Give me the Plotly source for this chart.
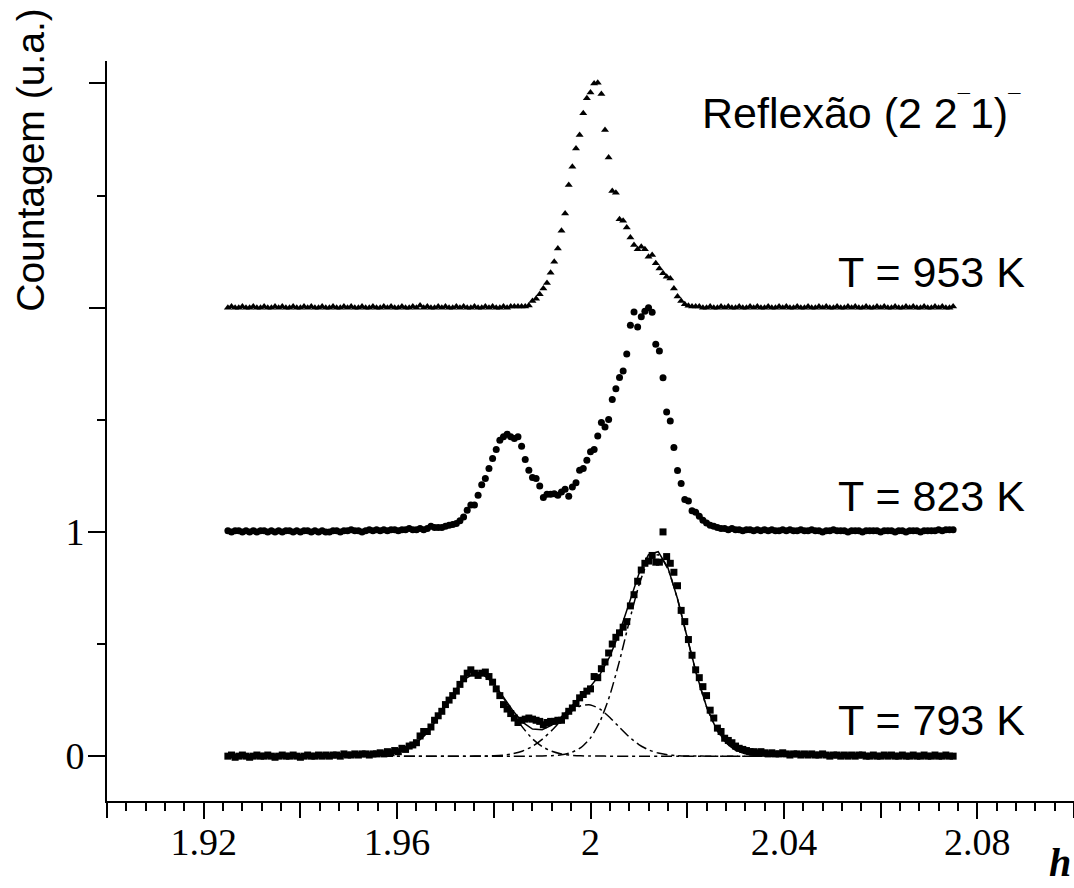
import numpy as np
import plotly.graph_objects as go

# ---------------- data ----------------
H_START, H_STOP, N_PTS = 1.925, 2.075, 201
h = np.linspace(H_START, H_STOP, N_PTS)

# T = 793 K (squares), offset 0
y793 = [
    0.00, 0.005, -0.005, 0.00, 0.005, 0.00, -0.005, 0.00, 0.005, 0.00,
    0.00, 0.005, 0.00, -0.005, 0.00, 0.005, 0.00, 0.00, 0.005, 0.00,
    -0.005, 0.00, 0.005, 0.00, 0.00, 0.005, 0.00, 0.005, 0.00, 0.005,
    0.005, 0.00, 0.01, 0.005, 0.005, 0.01, 0.005, 0.01, 0.01, 0.005,
    0.01, 0.01, 0.015, 0.01, 0.02, 0.015, 0.025, 0.02, 0.035, 0.03,
    0.045, 0.05, 0.06, 0.09, 0.11, 0.11, 0.13, 0.16, 0.18, 0.20,
    0.23, 0.25, 0.27, 0.29, 0.32, 0.345, 0.37, 0.385, 0.37, 0.36,
    0.37, 0.375, 0.355, 0.33, 0.30, 0.27, 0.23, 0.21, 0.19, 0.17,
    0.15, 0.16, 0.165, 0.17, 0.165, 0.16, 0.155, 0.14, 0.15, 0.155,
    0.155, 0.16, 0.16, 0.18, 0.20, 0.215, 0.235, 0.26, 0.275, 0.29,
    0.30, 0.355, 0.35, 0.39, 0.42, 0.46, 0.50, 0.53, 0.55, 0.575,
    0.60, 0.67, 0.72, 0.78, 0.83, 0.86, 0.87, 0.895, 0.865, 0.865,
    1.0, 0.89, 0.86, 0.82, 0.76, 0.65, 0.60, 0.52, 0.45, 0.385,
    0.35, 0.31, 0.27, 0.205, 0.17, 0.125, 0.11, 0.08, 0.07, 0.06,
    0.045, 0.035, 0.03, 0.025, 0.02, 0.02, 0.015, 0.02, 0.015, 0.01,
    0.015, 0.01, 0.01, 0.015, 0.01, 0.005, 0.01, 0.01, 0.005, 0.01,
    0.005, 0.01, 0.005, 0.005, 0.01, 0.005, 0.00, 0.005, 0.005, 0.00,
    0.005, 0.00, 0.005, 0.00, 0.005, 0.005, 0.00, 0.00, 0.005, 0.00,
    0.00, 0.005, 0.00, 0.005, 0.00, 0.00, 0.005, 0.00, 0.00, 0.005,
    0.00, 0.00, 0.005, 0.00, 0.00, 0.005, 0.00, 0.00, 0.005, 0.00, 0.00,
]

# T = 823 K (circles), values relative to its own baseline
y823_rel = [
    0.005, 0.0, 0.005, 0.005, 0.0, 0.005, 0.0, 0.005, 0.0, 0.005,
    0.005, 0.0, 0.005, 0.0, 0.005, 0.0, 0.005, 0.005, 0.0, 0.005,
    0.0, 0.005, 0.005, 0.0, 0.005, 0.0, 0.005, 0.0, 0.0, 0.005,
    0.005, 0.0, 0.005, 0.005, 0.01, 0.005, 0.005, 0.0, 0.005, 0.01,
    0.005, 0.01, 0.005, 0.01, 0.005, 0.01, 0.01, 0.005, 0.01, 0.01,
    0.015, 0.01, 0.01, 0.015, 0.01, 0.015, 0.025, 0.02, 0.02, 0.02,
    0.025, 0.03, 0.033, 0.037, 0.05, 0.067, 0.097, 0.12, 0.12, 0.164,
    0.21, 0.238, 0.283, 0.327, 0.367, 0.409, 0.424, 0.436, 0.424, 0.417,
    0.424, 0.382, 0.323, 0.275, 0.243, 0.238, 0.205, 0.153, 0.168, 0.168,
    0.17, 0.164, 0.178, 0.19, 0.159, 0.20, 0.219, 0.275, 0.283, 0.32,
    0.357, 0.367, 0.428, 0.488, 0.468, 0.501, 0.59, 0.638, 0.689, 0.718,
    0.793, 0.922, 0.981, 0.914, 0.959, 0.984, 1.0, 0.98, 0.837, 0.807,
    0.687, 0.535, 0.495, 0.376, 0.274, 0.216, 0.144, 0.138, 0.094, 0.088,
    0.07, 0.052, 0.04, 0.03, 0.025, 0.02, 0.015, 0.015, 0.01, 0.015,
    0.01, 0.01, 0.005, 0.01, 0.01, 0.005, 0.01, 0.005, 0.01, 0.005,
    0.01, 0.005, 0.005, 0.01, 0.005, 0.01, 0.005, 0.005, 0.01, 0.005,
    0.005, 0.01, 0.005, 0.005, 0.0, 0.005, 0.005, 0.01, 0.005, 0.005,
    0.005, 0.0, 0.005, 0.005, 0.005, 0.0, 0.005, 0.005, 0.005, 0.005,
    0.0, 0.005, 0.005, 0.005, 0.0, 0.005, 0.005, 0.0, 0.005, 0.005,
    0.005, 0.0, 0.005, 0.005, 0.005, 0.005, 0.01, 0.005, 0.01, 0.01, 0.01,
]

# T = 953 K (triangles), values relative to its own baseline
y953_rel = [
    0.0, 0.005, 0.0, 0.0, 0.005, 0.0, 0.0, 0.005, 0.0, 0.0,
    0.005, 0.0, 0.0, 0.005, 0.0, 0.005, 0.0, 0.0, 0.005, 0.0,
    0.0, 0.005, 0.0, 0.005, 0.0, 0.0, 0.005, 0.0, 0.0, 0.005,
    0.0, 0.0, 0.005, 0.0, 0.005, 0.0, 0.0, 0.005, 0.0, 0.0,
    0.005, 0.0, 0.0, 0.005, 0.0, 0.005, 0.0, 0.0, 0.005, 0.0,
    0.0, 0.005, 0.0, 0.01, 0.0, 0.005, 0.0, 0.0, 0.005, 0.0,
    0.005, 0.0, 0.0, 0.005, 0.0, 0.005, 0.0, 0.0, 0.005, 0.0,
    0.0, 0.005, 0.0, 0.005, 0.0, 0.0, 0.005, 0.0, 0.005, 0.005,
    0.005, 0.005, 0.005, 0.01, 0.03, 0.04, 0.06, 0.086, 0.11, 0.156,
    0.205, 0.264, 0.343, 0.42, 0.547, 0.628, 0.71, 0.77, 0.867, 0.934,
    0.959, 1.0, 1.003, 0.953, 0.792, 0.67, 0.52, 0.512, 0.394, 0.388,
    0.358, 0.313, 0.279, 0.26, 0.272, 0.26, 0.227, 0.235, 0.198, 0.175,
    0.153, 0.138, 0.13, 0.086, 0.05, 0.03, 0.015, 0.008, 0.005, 0.005,
    0.005, 0.0, 0.0, 0.005, 0.0, 0.0, 0.005, 0.0, 0.005, 0.0,
    0.0, 0.005, 0.0, 0.0, 0.005, 0.0, 0.005, 0.0, 0.0, 0.005,
    0.0, 0.0, 0.005, 0.0, 0.005, 0.0, 0.0, 0.005, 0.0, 0.0,
    0.005, 0.0, 0.0, 0.005, 0.0, 0.005, 0.0, 0.0, 0.005, 0.0,
    0.0, 0.005, 0.0, 0.005, 0.0, 0.0, 0.005, 0.0, 0.0, 0.005,
    0.0, 0.005, 0.0, 0.0, 0.005, 0.0, 0.0, 0.005, 0.0, 0.005,
    0.0, 0.0, 0.005, 0.0, 0.0, 0.005, 0.0, 0.005, 0.0, 0.0, 0.005,
]

OFFSET_823 = 1.0
OFFSET_953 = 2.0

# Fit of T = 793 K: three components (dash-dot) and their sum (solid)
fit_h = [1.925, 1.935, 1.945,
         1.950, 1.952, 1.954, 1.956, 1.958, 1.960, 1.962, 1.964, 1.966, 1.968,
         1.970, 1.972, 1.974, 1.976, 1.978, 1.980, 1.982, 1.984, 1.986, 1.988,
         1.990, 1.992, 1.994, 1.996, 1.998, 2.000, 2.002, 2.004, 2.006, 2.008,
         2.010, 2.012, 2.014, 2.016, 2.018, 2.020, 2.022, 2.024, 2.026, 2.028,
         2.030, 2.032, 2.034, 2.036, 2.038, 2.040,
         2.050, 2.060, 2.075]
fit_c1 = [0, 0, 0,
          0.0001, 0.0003, 0.0009, 0.0026, 0.0064, 0.0148, 0.0307, 0.0582, 0.1003, 0.1574,
          0.2244, 0.2912, 0.3436, 0.3689, 0.3603, 0.320, 0.2587, 0.190, 0.1272, 0.0773,
          0.0428, 0.0216, 0.0099, 0.0041, 0.0016, 0.0005, 0.0002, 0.0001, 0, 0,
          0, 0, 0, 0, 0, 0, 0, 0, 0, 0,
          0, 0, 0, 0, 0, 0,
          0, 0, 0]
fit_c2 = [0, 0, 0,
          0, 0, 0, 0, 0, 0, 0, 0, 0, 0,
          0, 0, 0, 0.0002, 0.0006, 0.0018, 0.0047, 0.011, 0.0231, 0.0437,
          0.0747, 0.115, 0.1597, 0.1996, 0.225, 0.2285, 0.2092, 0.1726, 0.1283, 0.086,
          0.0519, 0.0282, 0.0139, 0.0061, 0.0024, 0.0009, 0.0003, 0, 0, 0,
          0, 0, 0, 0, 0, 0,
          0, 0, 0]
fit_c3 = [0, 0, 0,
          0, 0, 0, 0, 0, 0, 0, 0, 0, 0,
          0, 0, 0, 0, 0, 0, 0, 0, 0, 0,
          0.0007, 0.0021, 0.0061, 0.016, 0.038, 0.0813, 0.1564, 0.2715, 0.4247, 0.5986,
          0.7605, 0.8705, 0.898, 0.835, 0.6997, 0.5283, 0.3596, 0.2205, 0.1219, 0.0607,
          0.0273, 0.011, 0.004, 0.0013, 0.0004, 0.0001,
          0, 0, 0]
sum_h = fit_h[3:49]
fit_sum = [0.0001, 0.0003, 0.0009, 0.0026, 0.0064, 0.0148, 0.0307, 0.0582, 0.1003, 0.1574,
           0.2244, 0.2912, 0.3436, 0.3691, 0.3609, 0.3218, 0.2634, 0.201, 0.1503, 0.121,
           0.1182, 0.1387, 0.1757, 0.2197, 0.2646, 0.3103, 0.3658, 0.4442, 0.553, 0.6846,
           0.8124, 0.8987, 0.9119, 0.8411, 0.7021, 0.5292, 0.3599, 0.2205, 0.1219, 0.0607,
           0.0273, 0.011, 0.004, 0.0013, 0.0004, 0.0001]

# labelled major ticks and unlabelled major ticks
x_label_vals = [1.92, 1.96, 2.00, 2.04, 2.08]
x_label_text = ["1.92", "1.96", "2", "2.04", "2.08"]
x_plain_vals = [1.90, 1.94, 1.98, 2.02, 2.06, 2.10]
y_label_vals = [0, 1]
y_label_text = ["0", "1"]
y_plain_vals = [2, 3]

labels = ["T = 793 K", "T = 823 K", "T = 953 K"]
label_y = [0.16, 1.16, 2.16]

X_RANGE = [1.90, 2.10]
Y_RANGE = [-0.2, 3.1]

# ---------------- figure ----------------
fig = go.Figure()

dd = "11px,4px,3px,4px"
for comp in (fit_c1, fit_c2, fit_c3):
    fig.add_trace(go.Scatter(x=fit_h, y=comp, mode="lines",
                             line=dict(color="black", width=1.5, dash=dd, shape="spline", smoothing=0.6),
                             hoverinfo="skip"))
fig.add_trace(go.Scatter(x=sum_h, y=fit_sum, mode="lines",
                         line=dict(color="black", width=1.5), hoverinfo="skip"))

fig.add_trace(go.Scatter(x=h, y=y793, mode="markers",
                         marker=dict(symbol="square", size=7, color="black"), name="T = 793 K"))
fig.add_trace(go.Scatter(x=h, y=[v + OFFSET_823 for v in y823_rel], mode="markers",
                         marker=dict(symbol="circle", size=7, color="black"), name="T = 823 K"))
fig.add_trace(go.Scatter(x=h, y=[v + OFFSET_953 for v in y953_rel], mode="markers",
                         marker=dict(symbol="triangle-up", size=7, color="black"), name="T = 953 K"))
# empty traces so the overlay tick axes are drawn
fig.add_trace(go.Scatter(x=[], y=[], xaxis="x2", yaxis="y2", hoverinfo="skip"))

ann_font = dict(family="Liberation Sans, Arial", size=43, color="black")
annotations = []
for txt, yy in zip(labels, label_y):
    annotations.append(dict(x=2.0508, y=yy, xref="x", yref="y", text=txt, showarrow=False,
                            xanchor="left", yanchor="middle", font=ann_font))
bar = "<span style='font-size:22px;baseline-shift:18px'>¯</span>"
annotations.append(dict(x=2.0226, y=2.87, xref="x", yref="y",
                        text="Reflexão (2 2" + bar + "1)" + bar, showarrow=False,
                        xanchor="left", yanchor="middle", font=ann_font))
annotations.append(dict(x=-0.079, y=0.866, xref="paper", yref="paper",
                        text="Countagem (u.a.)", textangle=-90, showarrow=False,
                        xanchor="center", yanchor="middle",
                        font=dict(family="Liberation Sans, Arial", size=39, color="black")))
annotations.append(dict(x=0.972, y=-0.116, xref="paper", yref="paper",
                        text="<b><i>h</i></b>", showarrow=False,
                        xanchor="left", yanchor="bottom",
                        font=dict(family="Liberation Serif, Times New Roman", size=40, color="black")))

tick_font = dict(family="Liberation Serif, Times New Roman", size=38, color="black")

fig.update_layout(
    width=1074, height=888, autosize=False,
    margin=dict(l=107, r=0, t=61, b=87),
    paper_bgcolor="white", plot_bgcolor="white",
    showlegend=False,
    annotations=annotations,
    xaxis=dict(range=X_RANGE, showline=True, linecolor="black", linewidth=2,
               ticks="outside", ticklen=16, tickwidth=2, tickcolor="black",
               tickmode="array", tickvals=x_label_vals, ticktext=x_label_text,
               tickfont=tick_font, ticklabelstandoff=-10,
               showgrid=False, zeroline=False, mirror=False,
               minor=dict(dtick=0.004, tick0=1.90, ticks="outside", ticklen=8,
                          tickwidth=2, tickcolor="black", showgrid=False)),
    xaxis2=dict(range=X_RANGE, overlaying="x", anchor="y", side="bottom",
                showline=False, ticks="outside", ticklen=16, tickwidth=2, tickcolor="black",
                tickmode="array", tickvals=x_plain_vals, showticklabels=False,
                showgrid=False, zeroline=False),
    yaxis=dict(range=Y_RANGE, showline=True, linecolor="black", linewidth=2,
               ticks="outside", ticklen=17, tickwidth=2, tickcolor="black",
               tickmode="array", tickvals=y_label_vals, ticktext=y_label_text,
               tickfont=tick_font, ticklabelstandoff=-4,
               showgrid=False, zeroline=False, mirror=False,
               minor=dict(dtick=0.5, tick0=0, ticks="outside", ticklen=8,
                          tickwidth=2, tickcolor="black", showgrid=False)),
    yaxis2=dict(range=Y_RANGE, overlaying="y", anchor="x", side="left",
                showline=False, ticks="outside", ticklen=17, tickwidth=2, tickcolor="black",
                tickmode="array", tickvals=y_plain_vals, showticklabels=False,
                showgrid=False, zeroline=False),
)

fig.write_html("out.html")
